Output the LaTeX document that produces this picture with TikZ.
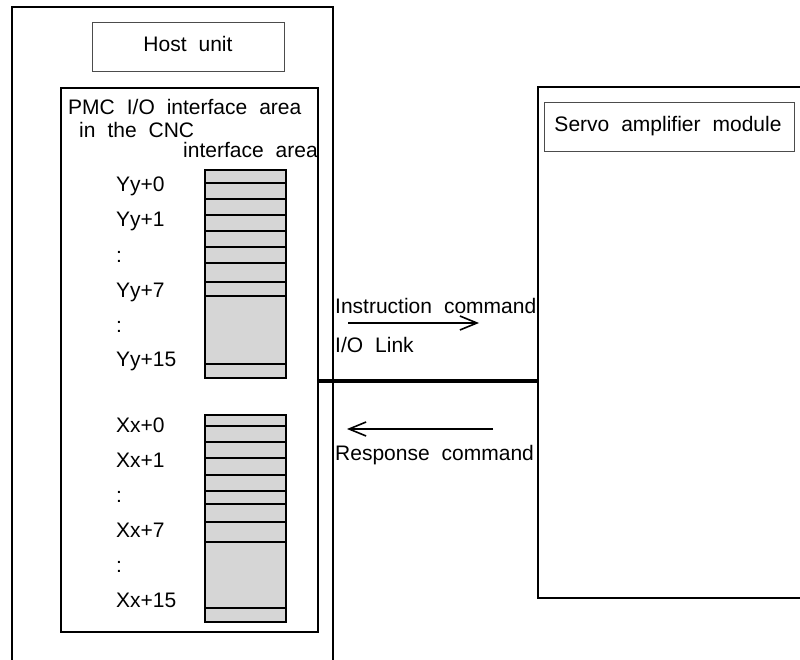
\documentclass[tikz,border=0pt]{standalone}
\usepackage{fontspec}
\setmainfont{Liberation Sans}
\usetikzlibrary{arrows.meta}
\newcommand\widespaces{\spaceskip=0.57em plus 0pt minus 0pt\relax}
\begin{document}
\begin{tikzpicture}[x=1pt,y=-1pt,
  txt/.style={font=\fontsize{21}{25}\selectfont, execute at begin node=\widespaces, inner sep=0pt, text=black},
  frame/.style={draw=black, line width=2.4pt},
  labelbox/.style={draw=black!70, line width=1pt, inner sep=0pt},
  reg/.style={draw=black, line width=2.4pt, fill=black!16, inner sep=0pt, anchor=north west, minimum width=81pt},
  rowline/.style={draw=black, line width=1.4pt},
  link/.style={draw=black, line width=4pt},
  cmd/.style={draw=black, line width=1.6pt, -{Straight Barb[length=17pt,width=14pt,line width=1.6pt]}}
]
\useasboundingbox (0,0) rectangle (800,660);

% host unit outer frame (open at bottom)
\draw[frame] (12,660) -- (12,7) -- (333,7) -- (333,660);
\node[labelbox, minimum width=192pt, minimum height=49pt, anchor=north west] (hostbox) at (92,22) {};
\node[txt, anchor=base] (hostlbl) at (188,52) {Host unit};

% PMC interface area
\node[frame, inner sep=0pt, minimum width=257pt, minimum height=544pt, anchor=north west] (pmc) at (60,87) {};
\node[txt, anchor=base west] (pmc1) at (68,115) {PMC I/O interface area};
\node[txt, anchor=base west] (pmc2) at (79,138) {in the CNC};
\node[txt, anchor=base west] (pmc3) at (183,158) {interface area};

% Y register
\node[reg, minimum height=208pt] (yreg) at (204,169) {};
\foreach \yy in {183,199,215,231,247,263,282,296,364}
  \draw[rowline] (yreg.west |- 0,\yy) -- (yreg.east |- 0,\yy);
% X register
\node[reg, minimum height=207pt] (xreg) at (204,414) {};
\foreach \yy in {426,442,458,475,491,504,522,542,608}
  \draw[rowline] (xreg.west |- 0,\yy) -- (xreg.east |- 0,\yy);

% labels
\node[txt, anchor=base west] (y0) at (116,192) {Yy+0};
\node[txt, anchor=base west] (y1) at (116,227) {Yy+1};
\node[txt, anchor=base west] (yd1) at (116,262) {:};
\node[txt, anchor=base west] (y7) at (116,297) {Yy+7};
\node[txt, anchor=base west] (yd2) at (116,332) {:};
\node[txt, anchor=base west] (y15) at (116,366) {Yy+15};

\node[txt, anchor=base west] (x0) at (116,432) {Xx+0};
\node[txt, anchor=base west] (x1) at (116,467) {Xx+1};
\node[txt, anchor=base west] (xd1) at (116,502) {:};
\node[txt, anchor=base west] (x7) at (116,537) {Xx+7};
\node[txt, anchor=base west] (xd2) at (116,572) {:};
\node[txt, anchor=base west] (x15) at (116,607) {Xx+15};

% servo amplifier module (open at right)
\draw[frame] (800,87) -- (538,87) -- (538,598) -- (800,598);
\node[labelbox, minimum width=250pt, minimum height=49pt, anchor=north west] (servobox) at (544,102) {};
\node[txt, anchor=base] (servolbl) at (668,132) {Servo amplifier module};

% I/O link
\coordinate (linkR) at (538,381);
\draw[link] (pmc.east |- linkR) -- (linkR);

\node[txt, anchor=base west] (instr) at (335,313) {Instruction command};
\node[txt, anchor=base west] (iolink) at (335,352) {I/O Link};
\node[txt, anchor=base west] (resp) at (335,460) {Response command};

\coordinate (a1s) at (348,323);
\coordinate (a1e) at (479,323);
\draw[cmd] (a1s) -- (a1e);
\coordinate (a2s) at (493,429);
\coordinate (a2e) at (347,429);
\draw[cmd] (a2s) -- (a2e);
\end{tikzpicture}
\end{document}
